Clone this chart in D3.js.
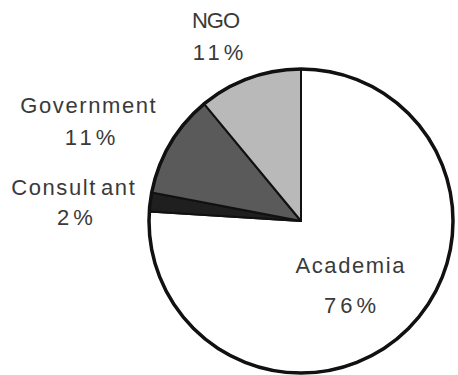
<!DOCTYPE html>
<html>
<head>
<meta charset="utf-8">
<script src="https://cdn.jsdelivr.net/npm/d3@7"></script>
<style>
  html, body { margin: 0; padding: 0; background: #fff; }
  svg { display: block; }
  .lbl { font-family: "Liberation Sans", Arial, Helvetica, sans-serif; font-size: 22px; fill: #3a3a3a; }
</style>
</head>
<body>
<svg id="chart" width="458" height="375"></svg>
<script>
// Sectors, in drawing order (clockwise from 12 o'clock)
const sectors = ["Academia", "Consultant", "Government", "NGO"];
const shares = [76, 2, 11, 11];
const fills = ["#ffffff", "#1f1f1f", "#5a5a5a", "#b9b9b9"];

const svg = d3.select("#chart");
const cx = 301, cy = 221, radius = 152;

const pie = d3.pie().sort(null).value(d => d.value).startAngle(0).endAngle(2 * Math.PI);
const data = sectors.map((name, i) => ({ name, value: shares[i], fill: fills[i] }));
const arcs = pie(data);
const arc = d3.arc().innerRadius(0).outerRadius(radius);

const g = svg.append("g").attr("transform", `translate(${cx},${cy})`);

g.selectAll("path.slice")
  .data(arcs)
  .join("path")
  .attr("class", "slice")
  .attr("d", arc)
  .attr("fill", d => d.data.fill)
  .attr("stroke", "#111")
  .attr("stroke-width", 2)
  .attr("stroke-linejoin", "round");

// heavier rim around the whole pie
g.append("circle")
  .attr("r", radius)
  .attr("fill", "none")
  .attr("stroke", "#111")
  .attr("stroke-width", 3.5);

// label positions: name line and percentage line
const labels = [
  { name: "Academia", x: 350, y1: 273, y2: 313 },
  { name: "Consultant", x: 73, y1: 195, y2: 225 },
  { name: "Government", x: 88, y1: 113, y2: 145 },
  { name: "NGO", x: 216, y1: 28, y2: 60 }
];

labels.forEach(l => {
  const ls = l.name === "NGO" ? -1 : 1.6;
  const t = svg.append("text")
    .attr("class", "lbl")
    .attr("x", l.x + ls / 2)
    .attr("y", l.y1)
    .attr("text-anchor", "middle")
    .attr("letter-spacing", ls + "px");
  if (l.name === "Consultant") {
    t.append("tspan").text("Consult");
    t.append("tspan").attr("dx", 4).text("ant");
  } else {
    t.text(l.name);
  }
  svg.append("text")
    .attr("class", "lbl")
    .attr("x", l.x + (l.name === "Academia" ? 2 : 4))
    .attr("y", l.y2)
    .attr("text-anchor", "middle")
    .attr("letter-spacing", "4px")
    .text(shares[sectors.indexOf(l.name)] + "%");
});
</script>
</body>
</html>
